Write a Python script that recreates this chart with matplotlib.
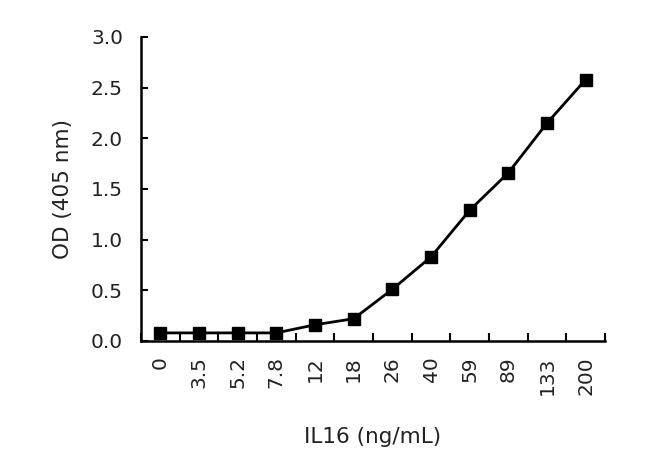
import matplotlib
matplotlib.use("Agg")
import matplotlib.pyplot as plt
import numpy as np

categories = ["0", "3.5", "5.2", "7.8", "12", "18", "26", "40", "59", "89", "133", "200"]
od_values = [0.08, 0.08, 0.08, 0.08, 0.16, 0.22, 0.51, 0.83, 1.29, 1.66, 2.15, 2.58]
y_ticks = [0.0, 0.5, 1.0, 1.5, 2.0, 2.5, 3.0]

plt.rcParams['font.family'] = ['DejaVu Sans']

fig = plt.figure(figsize=(6.5, 4.63), dpi=100)
ax = fig.add_axes([141/650, 1-341/463, (605-141)/650, (341-37)/463])

x = np.arange(len(categories))
ax.plot(x, od_values, color='black', linewidth=2.0, marker='s', markersize=8.5,
        markerfacecolor='black', markeredgecolor='black', clip_on=False, zorder=3)

ax.set_xlim(-0.5, len(categories) - 0.5)
ax.set_ylim(0, 3.0)
ax.set_yticks(y_ticks)
ax.set_yticklabels([f"{v:.1f}" for v in y_ticks])

ax.set_xticks(np.arange(-0.5, len(categories), 1.0))
ax.set_xticklabels([])
ax.set_xticks(x, minor=True)
ax.set_xticklabels(categories, minor=True, rotation=90)
ax.tick_params(axis='x', which='minor', length=0, pad=11, labelsize=14.5, labelcolor='#222222')
ax.tick_params(axis='x', which='major', direction='in', length=6, width=1.5)
ax.tick_params(axis='y', direction='in', length=5, width=1.5, labelsize=14.5, pad=13, labelcolor='#222222')

for s in ['top', 'right']:
    ax.spines[s].set_visible(False)
for s in ['left', 'bottom']:
    ax.spines[s].set_linewidth(1.8)

ax.set_ylabel("OD (405 nm)", fontsize=15.5, labelpad=13, color='#222222')
ax.set_xlabel("IL16 (ng/mL)", fontsize=15.5, labelpad=23, color='#222222')

fig.savefig("out.png", dpi=100)
